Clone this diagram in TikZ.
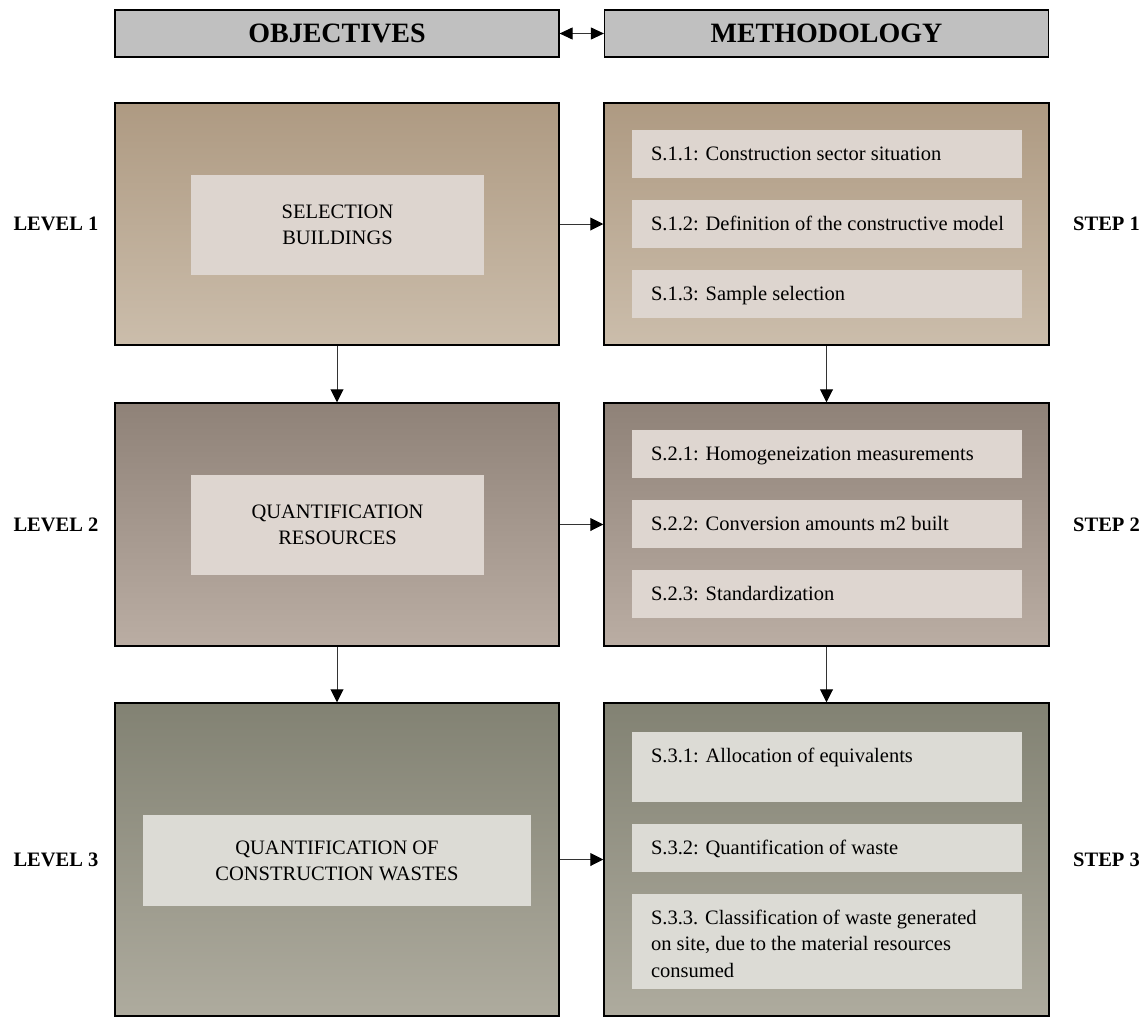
\documentclass[tikz,border=0pt]{standalone}
\usepackage{fontspec}
\setmainfont{Liberation Serif}
\usetikzlibrary{arrows.meta}
\definecolor{hdr}{HTML}{C0C0C0}
\definecolor{lonetop}{HTML}{AE9A82}
\definecolor{lonebot}{HTML}{CBBDAB}
\definecolor{ltwotop}{HTML}{8F8278}
\definecolor{ltwobot}{HTML}{BAADA3}
\definecolor{lthreetop}{HTML}{828273}
\definecolor{lthreebot}{HTML}{AEAB9E}
\definecolor{inone}{HTML}{DDD5CF}
\definecolor{intwo}{HTML}{DED6D0}
\definecolor{inthree}{HTML}{DCDBD5}
\tikzset{
  hdrbox/.style={draw=black, line width=1.2pt, fill=hdr, minimum width=444pt, minimum height=47pt, inner sep=0pt, font=\fontsize{28}{30}\selectfont\bfseries},
  outerbox/.style={draw=black, line width=1.5pt, inner sep=0pt, minimum width=444pt},
  innerbox/.style={inner sep=0pt, align=center, font=\fontsize{20.5}{26}\selectfont},
  sbox/.style={inner sep=0pt, minimum width=390pt},
  stext/.style={inner sep=0pt, align=left, anchor=base west, font=\fontsize{20.5}{26.5}\selectfont},
  sidelabel/.style={inner sep=0pt, font=\fontsize{20.5}{24}\selectfont\bfseries},
  conn/.style={draw=black!80, line width=1pt, -{Triangle[length=13pt,width=13pt,color=black]}},
}
\begin{document}
\begin{tikzpicture}[x=1pt,y=-1pt]
\useasboundingbox (0,0) rectangle (1144,1018);
% headers
\node[hdrbox] (hobj) at (337,33.5) {OBJECTIVES};
\node[hdrbox] (hmet) at (826.5,33.5) {METHODOLOGY};
\draw[draw=black!80, line width=1pt, {Triangle[length=13pt,width=12pt,color=black]}-{Triangle[length=13pt,width=12pt,color=black]}] (hobj) -- (hmet);
% level 1
\node[outerbox, minimum height=242pt, top color=lonetop, bottom color=lonebot] (ol1) at (337,224) {};
\node[outerbox, minimum width=445pt, minimum height=242pt, top color=lonetop, bottom color=lonebot] (or1) at (826.5,224) {};
% level 2
\node[outerbox, minimum height=243pt, top color=ltwotop, bottom color=ltwobot] (ol2) at (337,524.5) {};
\node[outerbox, minimum width=445pt, minimum height=243pt, top color=ltwotop, bottom color=ltwobot] (or2) at (826.5,524.5) {};
% level 3
\node[outerbox, minimum height=313pt, top color=lthreetop, bottom color=lthreebot] (ol3) at (337,859.5) {};
\node[outerbox, minimum width=445pt, minimum height=313pt, top color=lthreetop, bottom color=lthreebot] (or3) at (826.5,859.5) {};
% left inner boxes
\node[innerbox, fill=inone, minimum width=293pt, minimum height=100pt] (il1) at (337.5,225) {SELECTION\\BUILDINGS};
\node[innerbox, fill=intwo, minimum width=293pt, minimum height=100pt] (il2) at (337.5,525) {QUANTIFICATION\\RESOURCES};
\node[innerbox, fill=inthree, minimum width=388pt, minimum height=91pt] (il3) at (337,860.5) {QUANTIFICATION OF\\CONSTRUCTION WASTES};
% right inner boxes
\node[sbox, fill=inone, minimum height=48pt] (s11) at (827,154) {};
\node[sbox, fill=inone, minimum height=48pt] (s12) at (827,224) {};
\node[sbox, fill=inone, minimum height=48pt] (s13) at (827,294) {};
\node[sbox, fill=intwo, minimum height=48pt] (s21) at (827,454) {};
\node[sbox, fill=intwo, minimum height=48pt] (s22) at (827,524) {};
\node[sbox, fill=intwo, minimum height=48pt] (s23) at (827,594) {};
\node[sbox, fill=inthree, minimum height=70pt] (s31) at (827,767) {};
\node[sbox, fill=inthree, minimum height=48pt] (s32) at (827,848) {};
\node[sbox, fill=inthree, minimum height=95pt] (s33) at (827,941.5) {};
\node[stext] (t11) at ([xshift=19pt,yshift=-30.5pt]s11.north west) {S.1.1: Construction sector situation};
\node[stext] (t12) at ([xshift=19pt,yshift=-30.5pt]s12.north west) {S.1.2: Definition of the constructive model};
\node[stext] (t13) at ([xshift=19pt,yshift=-30.5pt]s13.north west) {S.1.3: Sample selection};
\node[stext] (t21) at ([xshift=19pt,yshift=-30.5pt]s21.north west) {S.2.1: Homogeneization measurements};
\node[stext] (t22) at ([xshift=19pt,yshift=-30.5pt]s22.north west) {S.2.2: Conversion amounts m2 built};
\node[stext] (t23) at ([xshift=19pt,yshift=-30.5pt]s23.north west) {S.2.3: Standardization};
\node[stext] (t31) at ([xshift=19pt,yshift=-30.5pt]s31.north west) {S.3.1: Allocation of equivalents};
\node[stext] (t32) at ([xshift=19pt,yshift=-30.5pt]s32.north west) {S.3.2: Quantification of waste};
\node[stext, anchor=north west] (t33) at ([xshift=19pt,yshift=-16pt]s33.north west) {S.3.3. Classification of waste generated\\on site, due to the material resources\\consumed};
% side labels
\node[sidelabel] (lv1) at (56,224) {LEVEL 1};
\node[sidelabel] (lv2) at (56,524.5) {LEVEL 2};
\node[sidelabel] (lv3) at (56,859.5) {LEVEL 3};
\node[sidelabel, anchor=west] (st1) at (1073,224) {STEP 1};
\node[sidelabel, anchor=west] (st2) at (1073,524.5) {STEP 2};
\node[sidelabel, anchor=west] (st3) at (1073,859.5) {STEP 3};
% connectors
\draw[conn] (ol1) -- (or1);
\draw[conn] (ol2) -- (or2);
\draw[conn] (ol3) -- (or3);
\draw[conn] (ol1) -- (ol2);
\draw[conn] (ol2) -- (ol3);
\draw[conn] (or1) -- (or2);
\draw[conn] (or2) -- (or3);
\end{tikzpicture}
\end{document}
